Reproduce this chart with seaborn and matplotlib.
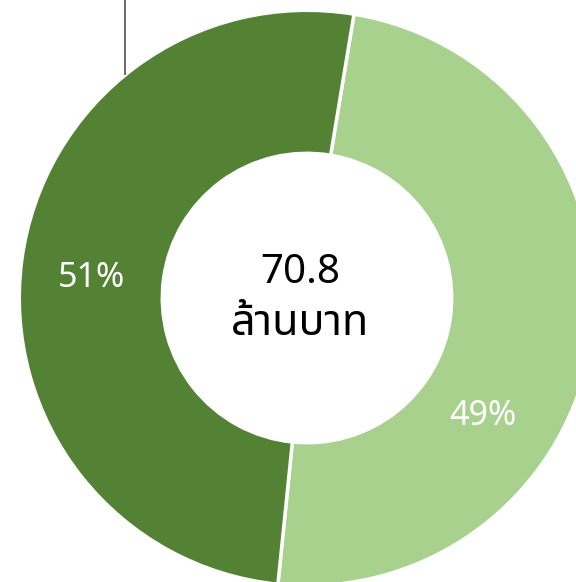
import matplotlib
matplotlib.use("Agg")
import numpy as np
import matplotlib.pyplot as plt
import seaborn as sns

# --- data ---
shares = [49, 51]                      # light slice first, then dark slice
colors = ["#A9D18E", "#548235"]
total_value = "70.8"
total_unit = "ล้านบาท"

sns.set_theme(style="white")
plt.rcParams["font.family"] = ["Noto Sans Thai", "Noto Sans", "DejaVu Sans"]

fig = plt.figure(figsize=(5.76, 5.82), dpi=100)
ax = fig.add_axes([0, 0, 1, 1])

wedges, texts, autotexts = ax.pie(
    shares,
    colors=colors,
    startangle=80.6,
    counterclock=False,
    radius=1.006,
    autopct=lambda p: f"{p:.0f}%",
    pctdistance=0.75,
    wedgeprops=dict(width=0.50, edgecolor="white", linewidth=2.5),
    textprops=dict(color="white", fontsize=24.5),
)

# label spots as in the original layout
ang = np.deg2rad(-34)
autotexts[0].set_position((0.74 * np.cos(ang), 0.74 * np.sin(ang)))
autotexts[1].set_position((-0.753, 0.07))

# centre total
ax.text(-0.024, 0.086, total_value, ha="center", va="center",
        fontsize=29, color="black")
ax.text(-0.024, -0.09, total_unit, ha="center", va="center",
        fontsize=31, color="black")

# leader line leaving the top of the dark slice
la = np.deg2rad(129.2)
lx, ly = 1.006 * np.cos(la), 1.006 * np.sin(la)
ax.plot([lx, lx], [ly, 1.1], color="#404040", lw=1.1, solid_capstyle="butt")

ax.set_xlim(-1.0734, 0.9406)
ax.set_ylim(-0.993, 1.042)
ax.set_aspect("equal", adjustable="datalim")
ax.axis("off")

fig.savefig("out.png", dpi=100)
